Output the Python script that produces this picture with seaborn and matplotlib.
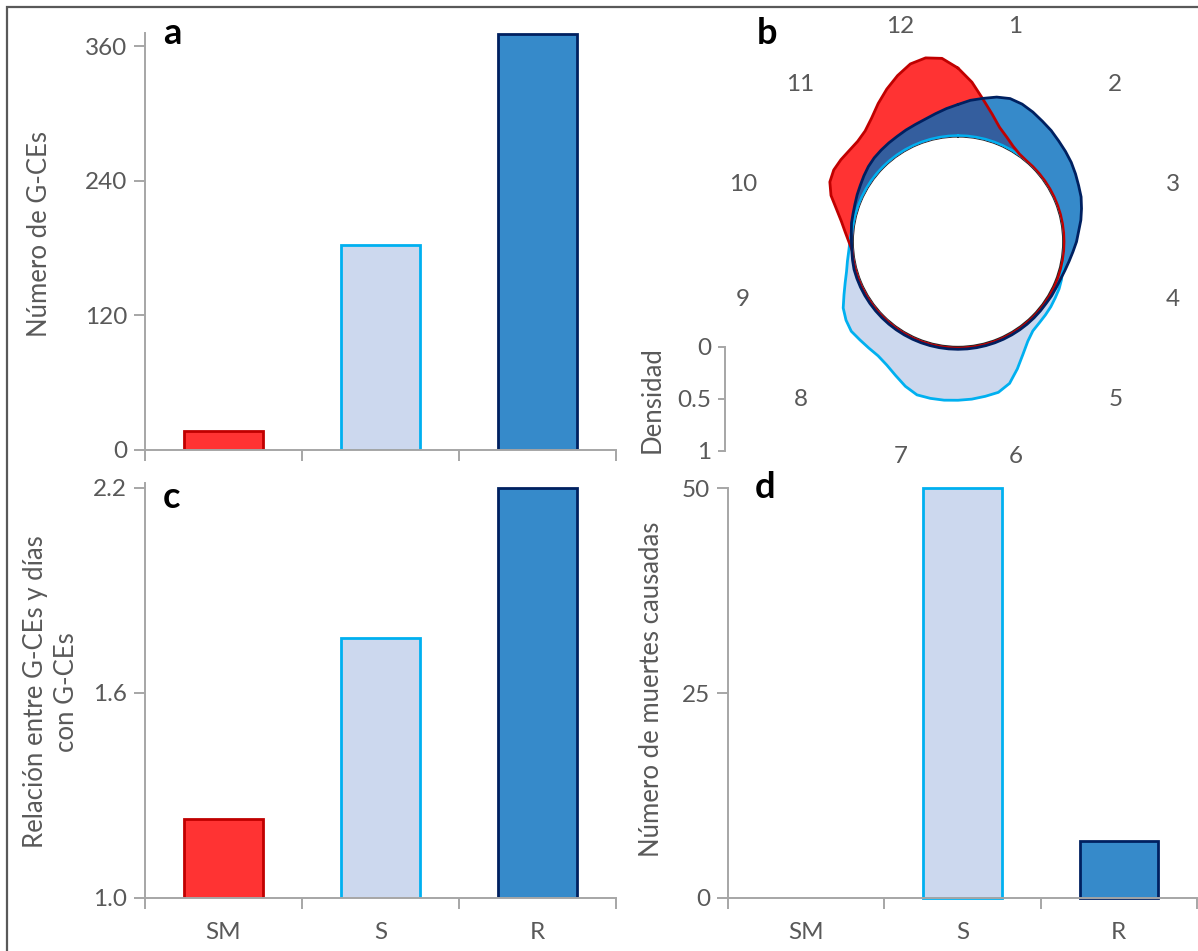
import numpy as np
import pandas as pd
import matplotlib
matplotlib.use("Agg")
import matplotlib.pyplot as plt
from matplotlib.patches import Rectangle
import seaborn as sns

sns.set_theme(style="white")
plt.rcParams["font.family"] = ["Lato", "DejaVu Sans"]

# ---- data -------------------------------------------------------------
categories = ["SM", "S", "R"]
n_gces = [17, 183, 371]                 # panel a
ratio_gces_days = [1.23, 1.76, 2.2]     # panel c
deaths = [0, 50, 7]                     # panel d

# panel b: density over the year (angle clockwise from the top, degrees)
angles_deg = list(range(0, 360, 5))
dens_sm = [0.66, 0.53, 0.38, 0.26, 0.16, 0.10, 0.05, 0.02, 0.01, 0.01, 0.01, 0.01,
           0.01, 0.01, 0.01, 0.01, 0.01, 0.01, 0.01, 0.01, 0.01, 0.01, 0.01, 0.01,
           0.01, 0.01, 0.01, 0.01, 0.01, 0.01, 0.01, 0.01, 0.01, 0.01, 0.01, 0.01,
           0.01, 0.01, 0.01, 0.01, 0.01, 0.01, 0.01, 0.01, 0.01, 0.01, 0.01, 0.01,
           0.01, 0.01, 0.01, 0.01, 0.01, 0.01, 0.04, 0.08, 0.13, 0.20, 0.29, 0.35,
           0.37, 0.365, 0.355, 0.355, 0.38, 0.44, 0.525, 0.61, 0.69, 0.76, 0.785, 0.76]
dens_s = [0.01, 0.01, 0.01, 0.01, 0.01, 0.01, 0.01, 0.01, 0.01, 0.01, 0.01, 0.01,
          0.01, 0.01, 0.01, 0.01, 0.01, 0.01, 0.01, 0.01, 0.015, 0.03, 0.05, 0.063,
          0.07, 0.08, 0.087, 0.095, 0.11, 0.16, 0.24, 0.34, 0.44, 0.49, 0.50, 0.51,
          0.515, 0.52, 0.52, 0.515, 0.47, 0.41, 0.36, 0.33, 0.325, 0.325, 0.33, 0.305,
          0.265, 0.20, 0.145, 0.10, 0.07, 0.045, 0.03, 0.02, 0.01, 0.01, 0.01, 0.01,
          0.01, 0.01, 0.01, 0.01, 0.01, 0.01, 0.01, 0.01, 0.01, 0.01, 0.01, 0.01]
dens_r = [0.31, 0.355, 0.39, 0.43, 0.455, 0.45, 0.43, 0.405, 0.385, 0.36, 0.34, 0.32,
          0.295, 0.27, 0.25, 0.22, 0.19, 0.155, 0.13, 0.10, 0.075, 0.055, 0.04, 0.033,
          0.03, 0.025, 0.025, 0.025, 0.025, 0.025, 0.025, 0.025, 0.025, 0.025, 0.025, 0.025,
          0.025, 0.025, 0.025, 0.025, 0.025, 0.025, 0.025, 0.025, 0.025, 0.025, 0.025, 0.025,
          0.025, 0.025, 0.025, 0.025, 0.02, 0.015, 0.015, 0.02, 0.03, 0.035, 0.045, 0.06,
          0.075, 0.095, 0.115, 0.13, 0.14, 0.15, 0.16, 0.175, 0.19, 0.21, 0.24, 0.275]
month_labels = ["1", "2", "3", "4", "5", "6", "7", "8", "9", "10", "11", "12"]
density_ticks = [0, 0.5, 1]

# ---- styling ----------------------------------------------------------
fills = {"SM": "#FF3333", "S": "#CCD8EE", "R": "#368ACA"}
edges = {"SM": "#C00000", "S": "#00B0F0", "R": "#002060"}
overlap_color = "#345E9E"
axis_gray = "#A6A6A6"
text_gray = "#595959"
FS_TICK = 17.5
FS_LABEL = 18.5

W, H = 1198, 951
fig = plt.figure(figsize=(W / 100, H / 100), dpi=100)


def px_axes(x0, y_top, x1, y_bot, **kw):
    return fig.add_axes([x0 / W, 1 - y_bot / H, (x1 - x0) / W, (y_bot - y_top) / H], **kw)


def bar_panel(ax, values, ylim, yticks, yticklabels, ylabel, label_xy, show_xlabels,
              unclip_top=False):
    df = pd.DataFrame({"cat": categories, "val": values})
    sns.barplot(data=df, x="cat", y="val", hue="cat", palette=fills,
                width=0.5, legend=False, ax=ax, saturation=1)
    for patch, cat, v in zip(ax.patches, categories, values):
        patch.set_edgecolor(edges[cat])
        patch.set_linewidth(2.0)
        patch.set_zorder(3)
        if unclip_top:
            patch.set_clip_on(False)
        if v == 0:
            patch.set_visible(False)
    ax.set_xlim(-0.5, 2.5)
    ax.set_ylim(*ylim)
    for s in ["top", "right"]:
        ax.spines[s].set_visible(False)
    for s in ["left", "bottom"]:
        ax.spines[s].set_color(axis_gray)
        ax.spines[s].set_linewidth(1.4)
        ax.spines[s].set_zorder(4)
    ax.set_yticks(yticks)
    ax.set_yticklabels(yticklabels)
    ax.tick_params(axis="y", length=8, width=1.4, color=axis_gray, labelsize=FS_TICK,
                   labelcolor=text_gray, pad=5, left=True)
    ax.set_xticks([0, 1, 2])
    ax.set_xticklabels(categories if show_xlabels else [])
    ax.set_xticks([-0.5, 0.5, 1.5, 2.5], minor=True)
    ax.tick_params(axis="x", which="major", length=0, labelsize=FS_TICK,
                   labelcolor=text_gray, pad=17)
    ax.tick_params(axis="x", which="minor", length=8, width=1.4, color=axis_gray,
                   bottom=True)
    ax.set_xlabel("")
    ax.set_ylabel(ylabel, fontsize=FS_LABEL, color=text_gray, va="center", ha="center",
                  linespacing=1.25)
    ax.yaxis.set_label_coords(label_xy[0] / W, 1 - label_xy[1] / H,
                              transform=fig.transFigure)
    ax.set_facecolor("none")


# panel a
ax_a = px_axes(145, 33, 616, 450)
bar_panel(ax_a, n_gces, (0, 372), [0, 120, 240, 360], ["0", "120", "240", "360"],
          "Número de G-CEs", (40, 234), False)

# panel c
ax_c = px_axes(145, 483, 616, 898)
bar_panel(ax_c, ratio_gces_days, (1.0, 2.214), [1.0, 1.6, 2.2], ["1.0", "1.6", "2.2"],
          "Relación entre G-CEs y días\ncon G-CEs", (51, 692), True)

# panel d
ax_d = px_axes(728, 488, 1197, 898)
bar_panel(ax_d, deaths, (0, 50), [0, 25, 50], ["0", "25", "50"],
          "Número de muertes causadas", (651, 689), True, unclip_top=True)

# panel b: circular density plot with a hole in the middle
cx, cy, r_hole, unit = 958, 241.7, 105.0, 104.0
r_origin = r_hole / unit
rmax = 1.0
half = (rmax + r_origin) * unit
ax_b = fig.add_axes([(cx - half) / W, 1 - (cy + half) / H, 2 * half / W, 2 * half / H],
                    projection="polar")
ax_b.set_theta_zero_location("N")
ax_b.set_theta_direction(-1)
ax_b.set_rorigin(-r_origin)
ax_b.set_ylim(0, rmax)
ax_b.grid(False)
ax_b.spines["polar"].set_visible(False)
ax_b.set_xticks([])
ax_b.set_yticks([])
ax_b.set_facecolor("none")

theta = np.deg2rad(np.array(angles_deg + [360]))


def closed(v):
    return np.array(v + [v[0]])


sm_c, s_c, r_c = closed(dens_sm), closed(dens_s), closed(dens_r)

# inner ring outline
ring = np.deg2rad(np.arange(0, 361, 1))
ax_b.plot(ring, np.zeros_like(ring), color=text_gray, lw=1.2, zorder=1)

ax_b.fill_between(theta, 0, s_c, color=fills["S"], lw=0, zorder=2)
ax_b.fill_between(theta, 0, sm_c, color=fills["SM"], lw=0, zorder=3)
ax_b.fill_between(theta, 0, r_c, color=fills["R"], lw=0, zorder=4)
ax_b.fill_between(theta, 0, np.minimum(sm_c, r_c), color=overlap_color, lw=0, zorder=5)

for vals, key in [(s_c, "S"), (sm_c, "SM"), (r_c, "R")]:
    sns.lineplot(x=theta, y=vals, sort=False, color=edges[key], lw=2.0,
                 ax=ax_b, zorder=6, estimator=None)
ax_b.set_xlabel("")
ax_b.set_ylabel("")

# month labels around the ring
for i, lab in enumerate(month_labels):
    ang = np.deg2rad(15 + 30 * i)
    ax_b.text(ang, 1.13, lab, ha="center", va="center", fontsize=FS_TICK,
              color=text_gray, clip_on=False)

# density scale bar
ax_s = fig.add_axes([725 / W, 1 - (346.7 + unit) / H, 0.0005, unit / H])
ax_s.set_ylim(1, 0)
ax_s.set_xticks([])
for s in ["top", "right", "bottom"]:
    ax_s.spines[s].set_visible(False)
ax_s.spines["left"].set_color(axis_gray)
ax_s.spines["left"].set_linewidth(1.4)
ax_s.set_yticks(density_ticks)
ax_s.set_yticklabels(["0", "0.5", "1"])
ax_s.tick_params(axis="y", length=5, width=1.4, color=axis_gray, labelsize=FS_TICK,
                 labelcolor=text_gray, pad=5, left=True)
ax_s.set_ylabel("Densidad", fontsize=FS_LABEL, color=text_gray, va="center", ha="center")
ax_s.yaxis.set_label_coords(652 / W, 1 - 400 / H, transform=fig.transFigure)
ax_s.set_facecolor("none")

# panel letters
for letter, (x, y) in zip("abcd", [(172, 34), (767, 33), (172, 497), (765, 488)]):
    fig.text(x / W, 1 - y / H, letter, fontsize=26, fontweight="bold",
             ha="center", va="center", color="black")

# outer frame
fig.patches.append(Rectangle((7 / W, -0.05), 1.1, 1 - 7 / H + 0.05,
                             transform=fig.transFigure, fill=False,
                             edgecolor="#595959", lw=1.6))

fig.savefig("out.png", dpi=100)
